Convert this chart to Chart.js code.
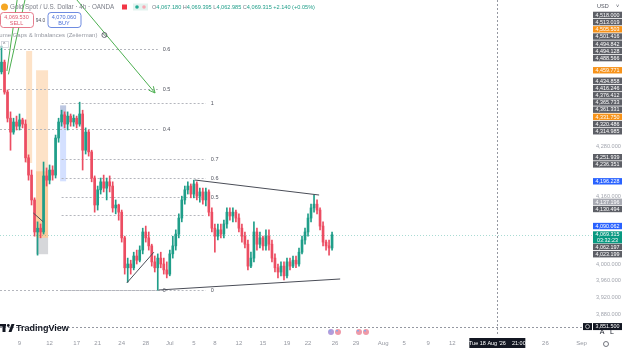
<!DOCTYPE html>
<html>
<head>
<meta charset="utf-8">
<script src="https://cdn.jsdelivr.net/npm/chart.js@4.4.1/dist/chart.umd.min.js"></script>
<style>
  html, body { margin: 0; padding: 0; background: #fff; }
  #wrap { width: 625px; height: 349px; position: relative; overflow: hidden; }
</style>
</head>
<body>
<div id="wrap"><canvas id="chart" width="625" height="349"></canvas></div>
<script>
// Gold Spot / USD, 4h candles (OANDA)
const firstOpen = 4456;
const closes = [4479, 4408, 4346, 4313, 4337, 4327, 4342, 4332, 4252, 4211,
  4152, 4076, 4085, 4076, 4209, 4199, 4223, 4211, 4299, 4337,
  4354, 4332, 4351, 4337, 4346, 4332, 4356, 4270, 4313, 4266,
  4204, 4140, 4176, 4195, 4180, 4195, 4185, 4133, 4140, 4123,
  4062, 3991, 4000, 3991, 4019, 4009, 4033, 4076, 4062, 4043,
  4005, 3991, 4014, 4000, 3986, 3976, 4024, 4043, 4071, 4109,
  4152, 4176, 4185, 4166, 4190, 4161, 4171, 4152, 4171, 4123,
  4085, 4066, 4081, 4071, 4095, 4123, 4114, 4123, 4109, 4085,
  4066, 4047, 3995, 4014, 4076, 4047, 4062, 4043, 4066, 4047,
  4014, 3991, 3981, 3995, 3972, 4005, 3995, 4009, 4000, 4028,
  4057, 4076, 4109, 4133, 4142, 4128, 4090, 4052, 4043, 4038,
  4069.315];
const highs = [4517, 4484, 4413, 4361, 4346, 4351, 4356, 4346, 4342, 4259,
  4223, 4157, 4100, 4095, 4242, 4228, 4235, 4233, 4306, 4346,
  4365, 4361, 4361, 4356, 4354, 4351, 4384, 4365, 4323, 4318,
  4270, 4209, 4185, 4204, 4211, 4204, 4209, 4195, 4152, 4142,
  4128, 4066, 4014, 4009, 4028, 4033, 4043, 4085, 4090, 4076,
  4047, 4019, 4024, 4028, 4014, 4005, 4033, 4066, 4081, 4119,
  4161, 4185, 4195, 4190, 4199, 4195, 4180, 4180, 4180, 4176,
  4133, 4095, 4095, 4095, 4104, 4133, 4133, 4133, 4128, 4119,
  4095, 4076, 4057, 4028, 4100, 4085, 4076, 4066, 4081, 4081,
  4057, 4024, 4000, 4005, 4005, 4014, 4014, 4019, 4019, 4038,
  4066, 4085, 4119, 4142, 4164, 4152, 4133, 4100, 4057, 4057,
  4076];
const lows = [4451, 4403, 4337, 4270, 4308, 4318, 4318, 4323, 4242, 4199,
  4140, 4066, 4021, 4062, 4071, 4185, 4190, 4199, 4204, 4289,
  4327, 4323, 4318, 4327, 4327, 4323, 4327, 4223, 4261, 4256,
  4195, 4123, 4128, 4166, 4171, 4152, 4171, 4123, 4119, 4104,
  4052, 3976, 3957, 3976, 3986, 4000, 4005, 4024, 4052, 4033,
  3995, 3981, 3938, 3991, 3976, 3967, 3972, 4014, 4033, 4062,
  4100, 4142, 4166, 4157, 4157, 4152, 4147, 4142, 4138, 4114,
  4076, 4028, 4057, 4062, 4062, 4085, 4104, 4100, 4100, 4076,
  4052, 4038, 3986, 3991, 4005, 4033, 4038, 4033, 4033, 4033,
  4005, 3981, 3967, 3972, 3962, 3967, 3986, 3991, 3991, 3995,
  4024, 4047, 4066, 4100, 4123, 4119, 4081, 4043, 4033, 4021,
  4033];

// time axis: bar slot -> label
const slotCount = 197;
const dateTicks = [[6, '9'], [16, '12'], [25, '17'], [32, '21'], [40, '24'], [48, '28'], [56, 'Jul'],
  [64, '5'], [71, '8'], [79, '12'], [87, '15'], [95, '19'], [102, '22'], [111, '26'], [118, '29'],
  [127, 'Aug'], [134, '5'], [142, '9'], [150, '12'], [181, '26'], [193, 'Sep']];

// price scale labels on the right
const lastPrice = 4069.315;
const countdown = '03:32:23';
const markValues = [4518.000, 4513.019, 4505.503, 4501.416, 4494.842, 4494.128, 4488.566, 4459.771,
  4434.858, 4416.246, 4376.412, 4365.733, 4361.331, 4331.750, 4320.486, 4314.985, 4251.939, 4236.351,
  4196.228, 4137.196, 4130.494, 4090.062, 4062.197, 4023.199];
const markKinds = ['d', 'd', 'o', 'd', 'd', 'd', 'd', 'o', 'd', 'd', 'd', 'd', 'd', 'o', 'd', 'd', 'd', 'd',
  'b', 'l', 'd', 'b', 'd', 'd'];

// drawings, in bar index / price
const fibABars = [-0.5, 52];
const fibAPrices = [3938.3, 4893];
const fibALevels = [0, 0.4, 0.5, 0.6];
const fibBBars = [20, 68];
const fibBPrices = [3938.3, 4382];
const fibBLevels = [0, 0.4, 0.5, 0.6, 0.7, 1];
const fibBShown = [true, false, true, true, true, true];
const boxes = [[8.2, 10.2, 4505.503, 4239.7], [11.5, 15.5, 4459.771, 4062.197], [11.5, 15.5, 4220, 4062.197],
  [11.5, 15.5, 4062.197, 4023.199], [19.5, 21.5, 4376.412, 4196.228], [19.5, 21.5, 4376.412, 4350]];
const trendLines = [[64.3, 4199.3, 105.7, 4163.7], [52.3, 3938.3, 112.7, 3964.4],
  [41.7, 3955, 50.7, 4028], [10.6, 4121, 13.9, 4100]];
const greenLines = [[1.8, 4458, 5.2, 4626.5], [2.3, 4450, 7.8, 4626.5]];
const arrowLine = [25.1, 4626.5, 51.1, 4405.8];
const crossBar = 165;
const crossPrice = 3851.5;

const upColor = '#1f9e89';
const downColor = '#ec4d62';
const boxColors = ['rgba(245,124,0,0.22)', 'rgba(245,124,0,0.22)', 'rgba(245,124,0,0.22)',
  'rgba(120,123,134,0.3)', 'rgba(41,98,255,0.2)', 'rgba(120,123,134,0.25)'];
const markColors = { d: '#5d5f66', o: '#f7931a', b: '#2962ff', l: '#a9abb3' };
const FONT = '"Liberation Sans", Arial, sans-serif';

const opens = closes.map((c, i) => i === 0 ? firstOpen : closes[i - 1]);
const candleColors = closes.map((c, i) => c >= opens[i] ? upColor : downColor);
const xLabels = Array.from({ length: slotCount }, () => '');
dateTicks.forEach(([i, t]) => { xLabels[i] = t; });

const fmt = v => v.toLocaleString('en-US', { minimumFractionDigits: 3, maximumFractionDigits: 3 });
const X = (c, i) => c.scales.x.getPixelForValue(i);
const Y = (c, v) => c.scales.y.getPixelForValue(v);

function seg(ctx, x1, y1, x2, y2) {
  ctx.beginPath();
  ctx.moveTo(x1, y1);
  ctx.lineTo(x2, y2);
  ctx.stroke();
}

function drawFib(c, bars, prices, levels, shown) {
  const ctx = c.ctx;
  const x1 = X(c, bars[0]), x2 = X(c, bars[1]);
  levels.forEach((lv, k) => {
    const y = Math.round(Y(c, prices[0] + (prices[1] - prices[0]) * lv)) + 0.5;
    ctx.strokeStyle = '#b4b6bd';
    ctx.lineWidth = 1;
    ctx.setLineDash([2, 2]);
    seg(ctx, x1, y, x2, y);
    ctx.setLineDash([]);
    if (!shown || shown[k]) {
      ctx.fillStyle = '#50535e';
      ctx.font = '5.5px ' + FONT;
      ctx.textAlign = 'left';
      ctx.textBaseline = 'middle';
      ctx.fillText(String(lv), x2 + 5, y);
    }
  });
}

function stackMarks(c) {
  const h = 7.2;
  const yLast = Y(c, lastPrice);
  const items = markValues.map((v, i) => ({ v, kind: markKinds[i], y: Y(c, v) }));
  let bound = yLast - 3.5;
  items.filter(it => it.v > lastPrice).sort((a, b) => b.y - a.y)
    .forEach(it => { it.c = Math.min(it.y, bound - h / 2); bound = it.c - h / 2; });
  bound = yLast + 8.5;
  items.filter(it => it.v <= lastPrice).sort((a, b) => a.y - b.y)
    .forEach(it => { it.c = Math.max(it.y, bound + h / 2); bound = it.c + h / 2; });
  return items;
}

const overlay = {
  id: 'overlay',
  beforeDatasetsDraw(c) {
    const ctx = c.ctx;
    const a = c.chartArea;
    ctx.save();
    ctx.beginPath();
    ctx.rect(a.left, a.top, a.right - a.left, a.bottom - a.top);
    ctx.clip();
    boxes.forEach((b, i) => {
      const x1 = X(c, b[0]), x2 = X(c, b[1]);
      const y1 = Y(c, b[2]), y2 = Y(c, b[3]);
      ctx.fillStyle = boxColors[i];
      ctx.fillRect(x1, y1, x2 - x1, y2 - y1);
    });
    drawFib(c, fibABars, fibAPrices, fibALevels, null);
    drawFib(c, fibBBars, fibBPrices, fibBLevels, fibBShown);
    // last price line
    const yl = Math.round(Y(c, lastPrice)) + 0.5;
    ctx.strokeStyle = 'rgba(8,153,129,0.35)';
    ctx.setLineDash([1, 2]);
    seg(ctx, a.left, yl, a.right, yl);
    ctx.setLineDash([]);
    ctx.restore();
  },
  afterDatasetsDraw(c) {
    const ctx = c.ctx;
    const a = c.chartArea;
    ctx.save();
    ctx.beginPath();
    ctx.rect(a.left, a.top, a.right - a.left, a.bottom - a.top);
    ctx.clip();
    ctx.lineWidth = 1;
    ctx.strokeStyle = '#4a4d57';
    trendLines.forEach(t => seg(ctx, X(c, t[0]), Y(c, t[1]), X(c, t[2]), Y(c, t[3])));
    ctx.strokeStyle = '#4caf50';
    greenLines.forEach(t => seg(ctx, X(c, t[0]), Y(c, t[1]), X(c, t[2]), Y(c, t[3])));
    const ax1 = X(c, arrowLine[0]), ay1 = Y(c, arrowLine[1]);
    const ax2 = X(c, arrowLine[2]), ay2 = Y(c, arrowLine[3]);
    seg(ctx, ax1, ay1, ax2, ay2);
    const ang = Math.atan2(ay2 - ay1, ax2 - ax1);
    [0.45, -0.45].forEach(d => seg(ctx, ax2, ay2, ax2 - 7 * Math.cos(ang + d), ay2 - 7 * Math.sin(ang + d)));
    // crosshair
    const cx = Math.round(X(c, crossBar)) + 0.5;
    const cy = Math.round(Y(c, crossPrice)) + 0.5;
    ctx.strokeStyle = '#9598a1';
    ctx.setLineDash([2, 2]);
    seg(ctx, cx, a.top, cx, a.bottom);
    seg(ctx, a.left, cy, a.right, cy);
    ctx.setLineDash([]);
    ctx.restore();
  },
  afterDraw(c) {
    const ctx = c.ctx;
    const a = c.chartArea;
    ctx.save();
    ctx.textBaseline = 'middle';

    // header row 1
    ctx.fillStyle = '#f5a623';
    ctx.beginPath(); ctx.arc(4.5, 7, 3.5, 0, Math.PI * 2); ctx.fill();
    ctx.font = '6.3px ' + FONT;
    ctx.fillStyle = '#7b7e88';
    ctx.textAlign = 'left';
    ctx.fillText('Gold Spot / U.S. Dollar \u00b7 4h \u00b7 OANDA', 10, 7);
    ctx.fillStyle = '#f23645';
    ctx.fillRect(122, 4.5, 5, 5);
    ctx.fillStyle = '#e3f3ef';
    ctx.fillRect(133, 3.5, 15, 7);
    ctx.fillStyle = '#22ab94';
    ctx.beginPath(); ctx.arc(137, 7, 1.8, 0, Math.PI * 2); ctx.fill();
    ctx.fillStyle = '#f7a8b4';
    ctx.beginPath(); ctx.arc(144, 7, 1.8, 0, Math.PI * 2); ctx.fill();
    const parts = [['O', '#7b7e88'], ['4,067.180', upColor], [' H', '#7b7e88'], ['4,069.395', upColor],
      [' L', '#7b7e88'], ['4,062.985', upColor], [' C', '#7b7e88'], ['4,069.315', upColor], [' +2.140 (+0.05%)', upColor]];
    ctx.font = '5.6px ' + FONT;
    let tx = 152;
    parts.forEach(([t, col]) => { ctx.fillStyle = col; ctx.fillText(t, tx, 7); tx += ctx.measureText(t).width; });

    // sell / buy buttons
    const btn = (x, w, col, price, lab) => {
      ctx.fillStyle = '#fff';
      ctx.strokeStyle = col;
      ctx.lineWidth = 0.8;
      ctx.beginPath(); ctx.roundRect(x + 0.5, 12.5, w, 15, 3); ctx.fill(); ctx.stroke();
      ctx.fillStyle = col;
      ctx.textAlign = 'center';
      ctx.font = '5.5px ' + FONT;
      ctx.fillText(price, x + w / 2, 17);
      ctx.fillText(lab, x + w / 2, 23.5);
    };
    btn(0, 33, '#e05a70', '4,069.530', 'SELL');
    btn(47.5, 33, '#4a6fd8', '4,070.060', 'BUY');
    ctx.fillStyle = '#50535e';
    ctx.font = '4.8px ' + FONT;
    ctx.fillText('94.0', 40.5, 20.5);

    // indicator legend
    ctx.textAlign = 'left';
    ctx.font = '6px ' + FONT;
    ctx.fillStyle = '#9598a1';
    const ind = 'Volume Gaps & Imbalances (Zeiierman)';
    ctx.fillText(ind, -9, 35);
    const iw = ctx.measureText(ind).width - 9;
    ctx.strokeStyle = '#50535e';
    ctx.lineWidth = 0.8;
    ctx.beginPath(); ctx.arc(iw + 7, 35, 2.5, 0, Math.PI * 2); ctx.stroke();
    seg(ctx, iw + 5, 33, iw + 9, 37);
    ctx.strokeStyle = '#d1d4dc';
    ctx.strokeRect(1.5, 41.5, 7, 6);
    ctx.fillStyle = '#50535e';
    ctx.font = '5px ' + FONT;
    ctx.fillText('^', 3, 45);

    // price axis header
    ctx.fillStyle = '#50535e';
    ctx.font = '5.5px ' + FONT;
    ctx.fillText('USD', 597, 6);
    ctx.fillText('\u02c5', 616, 6);

    // price labels
    ctx.textAlign = 'center';
    stackMarks(c).forEach(it => {
      ctx.fillStyle = markColors[it.kind];
      ctx.fillRect(593, it.c - 3.2, 29, 6.4);
      ctx.fillStyle = '#fff';
      ctx.font = '5.4px ' + FONT;
      ctx.fillText(fmt(it.v), 607.5, it.c + 0.3);
    });
    const yLast = Y(c, lastPrice);
    ctx.fillStyle = '#089981';
    ctx.fillRect(593, yLast - 3.5, 29, 12);
    ctx.fillStyle = '#fff';
    ctx.fillText(fmt(lastPrice), 607.5, yLast);
    ctx.fillText(countdown, 607.5, yLast + 5.5);

    // crosshair labels
    const cy = Y(c, crossPrice);
    ctx.fillStyle = '#131722';
    ctx.fillRect(593, cy - 3.5, 29, 7);
    ctx.fillRect(583, cy - 3.5, 9, 7);
    ctx.fillStyle = '#fff';
    ctx.fillText(fmt(crossPrice), 607.5, cy);
    ctx.strokeStyle = '#fff';
    ctx.lineWidth = 0.6;
    ctx.beginPath(); ctx.arc(587.5, cy, 2, 0, Math.PI * 2); ctx.stroke();
    const cx = X(c, crossBar);
    ctx.fillStyle = '#131722';
    ctx.fillRect(cx - 28, a.bottom + 3, 56, 10);
    ctx.fillStyle = '#fff';
    ctx.font = '5.5px ' + FONT;
    ctx.fillText("Tue 18 Aug '26    21:00", cx, a.bottom + 8);

    // bottom-right buttons
    ctx.fillStyle = '#131722';
    ctx.font = '7px ' + FONT;
    ctx.fillText('A', 602, 332);
    ctx.fillText('L', 612, 332);
    ctx.strokeStyle = '#50535e';
    ctx.lineWidth = 0.8;
    ctx.beginPath(); ctx.arc(606, 344, 2.5, 0, Math.PI * 2); ctx.stroke();

    // event markers
    [[331, '#b39ddb'], [338, '#ef9aa8'], [359, '#ef9aa8'], [366, '#ef9aa8']].forEach(([x, col]) => {
      ctx.fillStyle = col;
      ctx.beginPath(); ctx.arc(x, 332, 3, 0, Math.PI * 2); ctx.fill();
      ctx.fillStyle = '#8fa6e6';
      ctx.fillRect(x - 2, 330, 2, 1.5);
    });

    // logo
    ctx.fillStyle = '#131722';
    ctx.fillRect(0, 324, 6, 2.5);
    ctx.fillRect(2.5, 324, 3, 8);
    ctx.beginPath(); ctx.arc(8.3, 325.5, 1.4, 0, Math.PI * 2); ctx.fill();
    ctx.beginPath(); ctx.moveTo(8.5, 332); ctx.lineTo(11.5, 324); ctx.lineTo(14.5, 324); ctx.lineTo(11.5, 332); ctx.fill();
    ctx.textAlign = 'left';
    ctx.font = 'bold 9px ' + FONT;
    ctx.fillText('TradingView', 16, 328.5);
    ctx.restore();
  }
};

new Chart(document.getElementById('chart'), {
  type: 'bar',
  data: {
    labels: xLabels,
    datasets: [
      {
        label: 'body',
        data: closes.map((c, i) => [opens[i], c]),
        backgroundColor: candleColors,
        barThickness: 2,
        minBarLength: 1,
        grouped: false
      },
      {
        label: 'wick',
        data: closes.map((c, i) => [lows[i], highs[i]]),
        backgroundColor: candleColors,
        barThickness: 1,
        grouped: false
      }
    ]
  },
  options: {
    responsive: false,
    animation: false,
    layout: { padding: 0 },
    plugins: { legend: { display: false }, tooltip: { enabled: false } },
    scales: {
      x: {
        offset: true,
        grid: { display: false, drawTicks: false },
        border: { display: false },
        ticks: {
          autoSkip: false,
          maxRotation: 0,
          padding: 5,
          color: '#9598a1',
          font: { size: 6, family: FONT }
        },
        afterFit(s) { s.height = 14; s.paddingLeft = 0; s.paddingRight = 0; }
      },
      y: {
        position: 'right',
        min: 3831.5,
        max: 4626.5,
        grid: { display: false, drawTicks: false },
        border: { display: false },
        ticks: {
          stepSize: 40,
          includeBounds: false,
          padding: 4,
          color: '#a3a6af',
          font: { size: 5.6, family: FONT },
          callback(v) {
            if (v > 4580 || v < 3860) return '';
            if (markValues.some(m => Math.abs(m - v) < 12) || Math.abs(lastPrice - v) < 12) return '';
            return fmt(v);
          }
        },
        afterFit(s) { s.width = 33; s.paddingTop = 0; s.paddingBottom = 0; }
      }
    }
  },
  plugins: [overlay]
});
</script>
</body>
</html>
